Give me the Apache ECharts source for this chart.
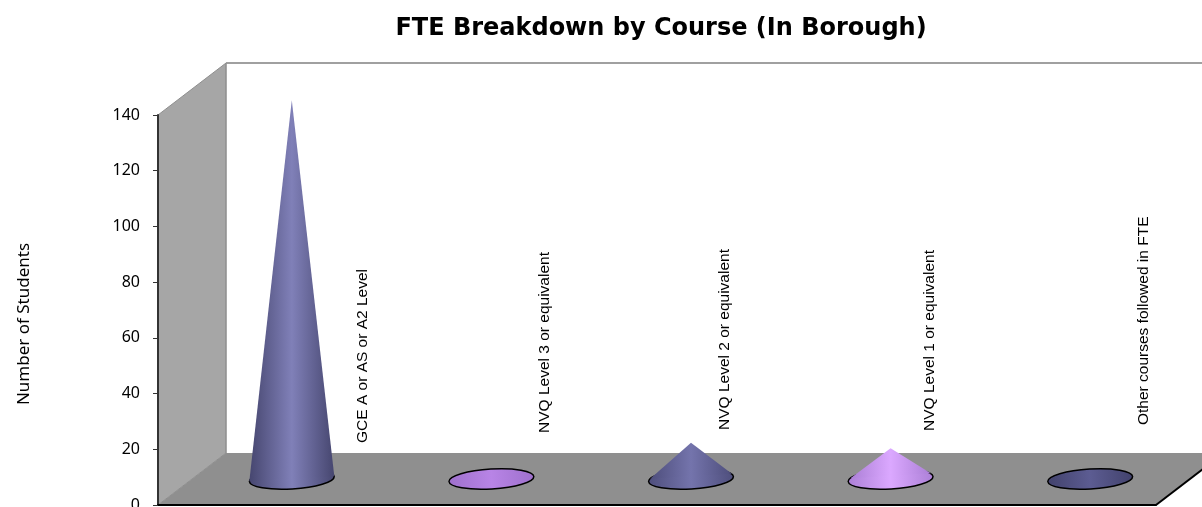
<!DOCTYPE html>
<html>
<head>
<meta charset="utf-8">
<style>
html,body{margin:0;padding:0;background:#fff;overflow:hidden}
#main{width:1202px;height:507px}
</style>
<script src="https://cdn.jsdelivr.net/npm/echarts@6/dist/echarts.min.js"></script>
</head>
<body>
<div id="main"></div>
<script>
var courses = ['GCE A or AS or A2 Level', 'NVQ Level 3 or equivalent', 'NVQ Level 2 or equivalent', 'NVQ Level 1 or equivalent', 'Other courses followed in FTE'];
var students = [136, 0, 13, 11, 0];
var yTicks = { min: 0, max: 140, interval: 20 };

// [edge, centre] of the cone shading
var coneColors = [['#46466f', '#8080b8'], ['#9e70cc', '#b884e6'], ['#4e4e7c', '#7474ac'], ['#ab7fd6', '#dba8ff'], ['#42426c', '#5c5c92']];
// where each rotated label sits, relative to cone centre and page
var labelShift = [[71, 443], [53, 433], [34, 430], [39, 431], [54, 425]];

var depthX = 68, depthY = 52;

function shade(i) {
  var c = coneColors[i];
  return new echarts.graphic.LinearGradient(0, 0, 1, 0, [
    { offset: 0, color: c[0] }, { offset: 0.5, color: c[1] }, { offset: 1, color: c[0] }
  ]);
}

function renderBox(params, api) {
  var band = api.size([1, 0])[0];
  var left = api.coord([0, 0])[0] - band / 2;
  var right = api.coord([courses.length - 1, 0])[0] + band / 2;
  var y0 = api.coord([0, yTicks.min])[1];
  var yTop = api.coord([0, yTicks.max])[1];
  return {
    type: 'group',
    children: [
      { type: 'polygon', shape: { points: [[left, y0], [left + depthX, y0 - depthY], [left + depthX, yTop - depthY], [left, yTop]] },
        style: { fill: '#a6a6a6', stroke: '#8e8e8e', lineWidth: 1 } },
      { type: 'polygon', shape: { points: [[left, y0], [left + depthX, y0 - depthY], [right + depthX, y0 - depthY], [right, y0]] },
        style: { fill: '#8f8f8f' } },
      { type: 'line', shape: { x1: right, y1: y0, x2: right + depthX, y2: y0 - depthY }, style: { stroke: '#000', lineWidth: 2 } },
      { type: 'line', shape: { x1: left + depthX, y1: yTop - depthY, x2: right + depthX, y2: yTop - depthY }, style: { stroke: '#a0a0a0', lineWidth: 2 } },
      { type: 'line', shape: { x1: left + depthX, y1: yTop - depthY, x2: left + depthX, y2: y0 - depthY }, style: { stroke: '#8e8e8e', lineWidth: 1 } }
    ]
  };
}

function renderCone(params, api) {
  var i = api.value(0);
  var base = api.coord([i, 0]);
  var top = api.coord([i, api.value(1)]);
  var cx = base[0] + depthX / 2;
  var cy = base[1] - depthY / 2;
  var tipY = top[1] - depthY / 2;
  var rx = 42.5, ry = 10, tilt = 0.06;
  var children = [{
    type: 'ellipse',
    x: cx, y: cy, rotation: tilt,
    shape: { cx: 0, cy: 0, rx: rx, ry: ry },
    style: { fill: shade(i), stroke: '#000', lineWidth: 1.5 }
  }];
  var h = cy - tipY;
  if (h > ry) {
    // tangent points from the tip to the base ellipse
    var ty = -ry * ry / h;
    var tx = rx * Math.sqrt(1 - ry * ry / (h * h));
    var slope = Math.tan(tilt);
    children.push({
      type: 'polygon',
      shape: { points: [[cx - tx, cy + ty + tx * slope], [cx, tipY], [cx + tx, cy + ty - tx * slope]] },
      style: { fill: shade(i) }
    });
  }
  children.push({
    type: 'text',
    x: cx + labelShift[i][0], y: labelShift[i][1], rotation: Math.PI / 2,
    style: { text: courses[i], fill: '#000', font: '15.5px "Liberation Sans"', align: 'left', verticalAlign: 'middle' }
  });
  return { type: 'group', children: children };
}

var chart = echarts.init(document.getElementById('main'), null, { renderer: 'canvas' });
chart.setOption({
  animation: false,
  title: {
    text: 'FTE Breakdown by Course (In Borough)',
    left: 656, top: 12, textAlign: 'center',
    textStyle: { fontFamily: 'DejaVu Sans', fontSize: 24, fontWeight: 'bold', color: '#000' }
  },
  grid: { left: 158, width: 998, top: 115, bottom: 2, outerBoundsMode: 'none' },
  xAxis: {
    type: 'category', data: courses, z: 10,
    axisTick: { show: false }, axisLabel: { show: false },
    axisLine: { lineStyle: { color: '#000', width: 2 } }
  },
  yAxis: {
    type: 'value', min: yTicks.min, max: yTicks.max, interval: yTicks.interval, z: 10,
    splitLine: { show: false },
    axisLine: { show: true, lineStyle: { color: '#333', width: 2 } },
    axisTick: { show: true, length: 5, lineStyle: { color: '#333', width: 1 } },
    axisLabel: { margin: 18, fontFamily: 'Noto Sans', fontSize: 16, color: '#000', padding: [3, 0, 0, 0] }
  },
  graphic: [{
    type: 'text', x: 24, y: 324, rotation: Math.PI / 2,
    style: { text: 'Number of Students', font: '17px "Noto Sans"', fill: '#000', align: 'center', verticalAlign: 'middle' }
  }],
  series: [
    { type: 'custom', name: 'box', data: [0], renderItem: renderBox, silent: true, z: 1 },
    {
      type: 'custom', name: 'Number of Students', z: 2,
      data: students.map(function (v, i) { return [i, v]; }),
      encode: { x: 0, y: 1 },
      renderItem: renderCone
    }
  ]
});
</script>
</body>
</html>
